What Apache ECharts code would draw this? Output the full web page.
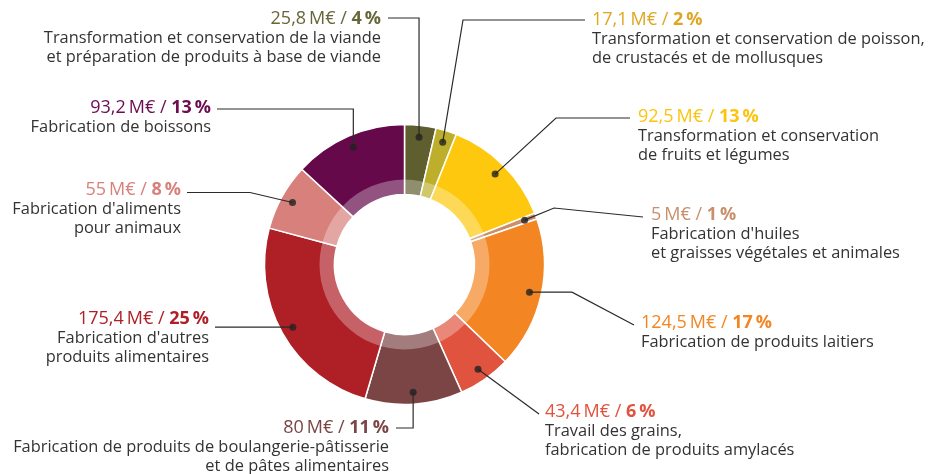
<!DOCTYPE html>
<html>
<head>
<meta charset="utf-8">
<script src="https://cdn.jsdelivr.net/npm/echarts@6/dist/echarts.min.js"></script>
<style>
  html, body { margin: 0; padding: 0; background: #fff; }
  #chart { width: 930px; height: 474px; }
</style>
</head>
<body>
<div id="chart"></div>
<script>
// secteurs, dans l'ordre horaire depuis midi
const sectors = [
  'Viande', 'Poisson', 'Fruits et légumes', 'Huiles et graisses', 'Produits laitiers',
  'Grains', 'Boulangerie-pâtisserie', 'Autres produits', 'Aliments pour animaux', 'Boissons'
]
const values = [25.8, 17.1, 92.5, 5, 124.5, 43.4, 80, 175.4, 55, 93.2]
const valueTexts = ['25,8', '17,1', '92,5', '5', '124,5', '43,4', '80', '175,4', '55', '93,2']
const percentTexts = ['4', '2', '13', '1', '17', '6', '11', '25', '8', '13']
const descriptions = [
  ['Transformation et conservation de la viande', 'et préparation de produits à base de viande'],
  ['Transformation et conservation de poisson,', 'de crustacés et de mollusques'],
  ['Transformation et conservation', 'de fruits et légumes'],
  ["Fabrication d'huiles", 'et graisses végétales et animales'],
  ['Fabrication de produits laitiers'],
  ['Travail des grains,', 'fabrication de produits amylacés'],
  ['Fabrication de produits de boulangerie-pâtisserie', 'et de pâtes alimentaires'],
  ["Fabrication d'autres", 'produits alimentaires'],
  ["Fabrication d'aliments", 'pour animaux'],
  ['Fabrication de boissons']
]

const sliceColors = ['#5f5e2f', '#bdaf2c', '#fec80f', '#c8906d', '#f38623', '#e0533e', '#7b4545', '#ae1f26', '#d8807b', '#65094b']
const valueColors = ['#66663a', '#dfa623', '#fcc30f', '#c8906d', '#f38623', '#e0533e', '#7b4545', '#ae1f26', '#d8807b', '#6b0d50']

// label placement: text anchor + leader line (null = follow the dot)
const labelSpots = [
  { x: 381, y: 8.5, align: 'right', line: [[null, 18], [388, 18]] },
  { x: 592, y: 9.5, align: 'left', line: [[463, 20], [585, 20]] },
  { x: 638, y: 107, align: 'left', line: [[556, 118], [630, 118]] },
  { x: 651, y: 205, align: 'left', line: [[554, 208], [643, 217]] },
  { x: 641, y: 312.5, align: 'left', line: [[572, null], [634, 325]] },
  { x: 545, y: 401.5, align: 'left', line: [[539, 414], [539, 414]] },
  { x: 389, y: 418, align: 'right', line: [[null, 428], [396, 428]] },
  { x: 209, y: 309, align: 'right', line: [[215, null], [215, null]] },
  { x: 181, y: 179.5, align: 'right', line: [[250, 192.5], [187, 192.5]] },
  { x: 211, y: 97.5, align: 'right', line: [[null, 109], [217, 109]] }
]

const CENTER = [404.5, 264.5]
const FONT = 'Open Sans'

const total = values.reduce((a, b) => a + b, 0)
let acc = 0
const dotData = values.map(v => {
  const mid = acc + v / 2
  acc += v
  return [128, mid]
})

const labelData = values.map((v, i) => ({
  name: sectors[i],
  value: v,
  label: {
    formatter: '{v|' + valueTexts[i] + '\u2009M€ / }{b|' + percentTexts[i] + '\u2009%}\n' +
      descriptions[i].map(t => '{d|' + t + '}').join('\n'),
    rich: {
      v: { color: valueColors[i], fontSize: 18, lineHeight: 20, fontFamily: FONT },
      b: { color: valueColors[i], fontSize: 18, lineHeight: 20, fontWeight: 'bold', fontFamily: FONT },
      d: { color: '#333', fontSize: 16.4, lineHeight: 19, fontFamily: FONT }
    }
  }
}))

const chart = echarts.init(document.getElementById('chart'), null, { renderer: 'canvas' })
chart.setOption({
  animation: false,
  backgroundColor: '#fff',
  polar: { center: CENTER, radius: 140 },
  angleAxis: { type: 'value', min: 0, max: total, startAngle: 90, clockwise: true, show: false },
  radiusAxis: { type: 'value', min: 0, max: 140, show: false },
  series: [
    {
      type: 'pie',
      center: CENTER,
      radius: [70, 140],
      startAngle: 90,
      silent: true,
      z: 2,
      label: { show: false },
      labelLine: { show: false },
      itemStyle: { borderColor: '#fff', borderWidth: 1.5 },
      data: values.map((v, i) => ({ name: sectors[i], value: v, itemStyle: { color: sliceColors[i] } }))
    },
    {
      // lighter inner band
      type: 'pie',
      center: CENTER,
      radius: [70, 85],
      silent: true,
      z: 3,
      label: { show: false },
      labelLine: { show: false },
      itemStyle: { color: 'rgba(255,255,255,0.3)', borderWidth: 0 },
      data: [{ value: 1 }]
    },
    {
      // invisible pie carrying the labels and leader lines
      type: 'pie',
      center: CENTER,
      radius: [0, 128],
      startAngle: 90,
      silent: true,
      z: 4,
      avoidLabelOverlap: false,
      itemStyle: { color: 'rgba(0,0,0,0)' },
      label: { show: true, position: 'outside' },
      labelLine: { show: true, lineStyle: { color: '#2b2b2b', width: 1.2 } },
      labelLayout: function (params) {
        const spot = labelSpots[params.dataIndex]
        const p0 = params.labelLinePoints[0]
        const pts = [p0].concat(spot.line.map(pt => [
          pt[0] == null ? p0[0] : pt[0],
          pt[1] == null ? p0[1] : pt[1]
        ]))
        return { x: spot.x, y: spot.y, align: spot.align, verticalAlign: 'top', labelLinePoints: pts }
      },
      data: labelData
    },
    {
      type: 'scatter',
      coordinateSystem: 'polar',
      silent: true,
      z: 5,
      symbolSize: 7,
      itemStyle: { color: '#222' },
      data: dotData
    }
  ]
})
</script>
</body>
</html>
